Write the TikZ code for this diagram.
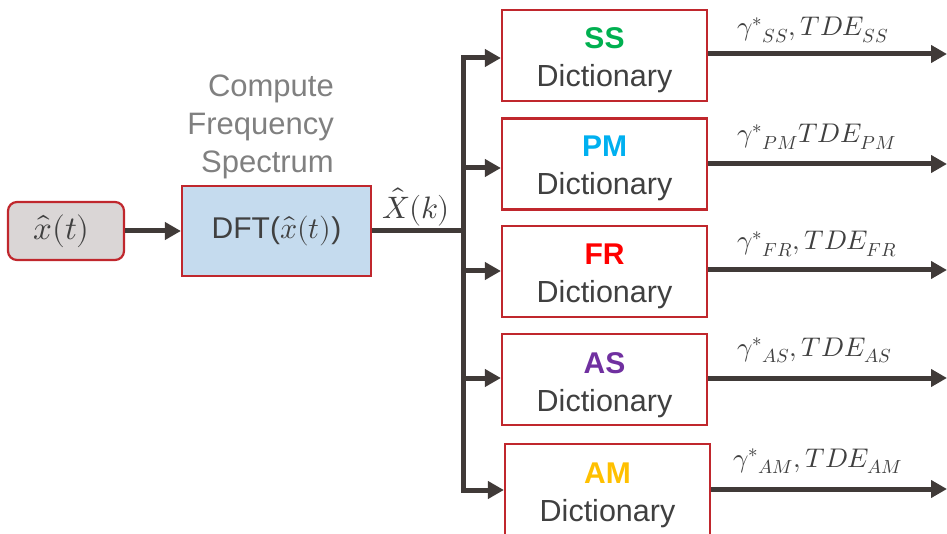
\documentclass[tikz,border=0pt]{standalone}
\usepackage{fontspec}
\usepackage{unicode-math}
\setmainfont{Liberation Sans}
\setmathfont{Latin Modern Math}
\usetikzlibrary{arrows.meta,calc}

\definecolor{wirec}{HTML}{403A38}
\definecolor{edgec}{HTML}{C0272D}
\definecolor{inputfill}{HTML}{DAD6D6}
\definecolor{dftfill}{HTML}{C5DBEE}
\definecolor{txt}{HTML}{404040}
\definecolor{notec}{HTML}{808080}
\definecolor{cSS}{HTML}{00B050}
\definecolor{cPM}{HTML}{00B0F0}
\definecolor{cFR}{HTML}{FF0000}
\definecolor{cAS}{HTML}{7030A0}
\definecolor{cAM}{HTML}{FFC000}

\begin{document}
\begin{tikzpicture}[x=1pt,y=-1pt,
  wire/.style={draw=wirec, line width=5pt},
  arr/.style={wire, -{Triangle[length=16pt,width=17pt]}},
  dictbox/.style={draw=edgec, line width=2.2pt, fill=white,
    minimum width=205pt, minimum height=91pt, inner sep=0pt},
  bigtext/.style={font=\fontsize{30}{36}\selectfont, text=txt, inner sep=0pt},
  dname/.style={font=\fontsize{30}{36}\selectfont\bfseries, inner sep=0pt, anchor=base},
  dword/.style={font=\fontsize{30.5}{36}\selectfont, text=txt, inner sep=0pt, anchor=base},
  outlab/.style={font=\fontsize{27}{32}\selectfont, text=txt, inner sep=0pt, anchor=base west}
]
\useasboundingbox (0,0) rectangle (947,534);
\clip (0,0) rectangle (947,534);

% input signal and spectrum block
\node[draw=edgec, line width=2.2pt, fill=inputfill, rounded corners=9pt,
      minimum width=116pt, minimum height=58pt, inner sep=0pt,
      bigtext, font=\fontsize{33}{38}\selectfont] (xin) at (66,231) {\hspace*{-9pt}$\hat{x}(t)$};
\node[draw=edgec, line width=2.2pt, fill=dftfill,
      minimum width=189pt, minimum height=90pt, inner sep=0pt,
      bigtext] (dft) at (276.5,231) {DFT($\hat{x}(t)$)};
\node[font=\fontsize{31}{38}\selectfont, text=notec, align=right,
      anchor=north east, inner sep=0pt] (note) at (334,75)
      {Compute\\Frequency\\Spectrum};

\draw[arr] (xin.east) -- (dft.west);

% bus feeding the dictionaries
\coordinate (b0) at (463,231);
\coordinate (b1) at (463,58);
\coordinate (b2) at (463,168);
\coordinate (b3) at (463,271);
\coordinate (b4) at (463,378);
\coordinate (b5) at (463,490);
\draw[wire] (dft.east) -- (b0);
\node[bigtext, font=\fontsize{31}{36}\selectfont] (spec) at (416,207) {$\hat{X}(k)$};
\draw[wire, line cap=rect] (b1) -- (b5);

% dictionaries
\node[dictbox] (ss) at (604.5,55.5) {};
\node[dictbox] (pm) at (604.5,164) {};
\node[dictbox] (fr) at (604.5,271.5) {};
\node[dictbox] (as) at (604.5,379.5) {};
\node[dictbox] (am) at (607.5,489.5) {};

\node[dname, text=cSS] (ssn) at (604.5,49) {SS};
\node[dword] (ssw) at (604.5,87) {Dictionary};
\node[dname, text=cPM] (pmn) at (604.5,157) {PM};
\node[dword] (pmw) at (604.5,195) {Dictionary};
\node[dname, text=cFR] (frn) at (604.5,265) {FR};
\node[dword] (frw) at (604.5,303) {Dictionary};
\node[dname, text=cAS] (asn) at (604.5,373) {AS};
\node[dword] (asw) at (604.5,411) {Dictionary};
\node[dname, text=cAM] (amn) at (607.5,483) {AM};
\node[dword] (amw) at (607.5,521) {Dictionary};

\draw[arr] (b1) -- (ss.west |- b1);
\draw[arr] (b2) -- (pm.west |- b2);
\draw[arr] (b3) -- (fr.west |- b3);
\draw[arr] (b4) -- (as.west |- b4);
\draw[arr] (b5) -- (am.west |- b5);

% outputs
\coordinate (o1) at (947,54);
\coordinate (o2) at (947,164);
\coordinate (o3) at (947,270);
\coordinate (o4) at (947,378);
\coordinate (o5) at (947,489);
\draw[arr] (ss.east |- o1) -- (o1);
\draw[arr] (pm.east |- o2) -- (o2);
\draw[arr] (fr.east |- o3) -- (o3);
\draw[arr] (as.east |- o4) -- (o4);
\draw[arr] (am.east |- o5) -- (o5);

\node[outlab] (l1) at (737,36) {$\gamma^{*}{}_{SS}, TDE_{SS}$};
\node[outlab] (l2) at (737,143) {$\gamma^{*}{}_{PM}TDE_{PM}$};
\node[outlab] (l3) at (737,250) {$\gamma^{*}{}_{FR}, TDE_{FR}$};
\node[outlab] (l4) at (737,356) {$\gamma^{*}{}_{AS}, TDE_{AS}$};
\node[outlab] (l5) at (733,467) {$\gamma^{*}{}_{AM}, TDE_{AM}$};
\end{tikzpicture}
\end{document}
